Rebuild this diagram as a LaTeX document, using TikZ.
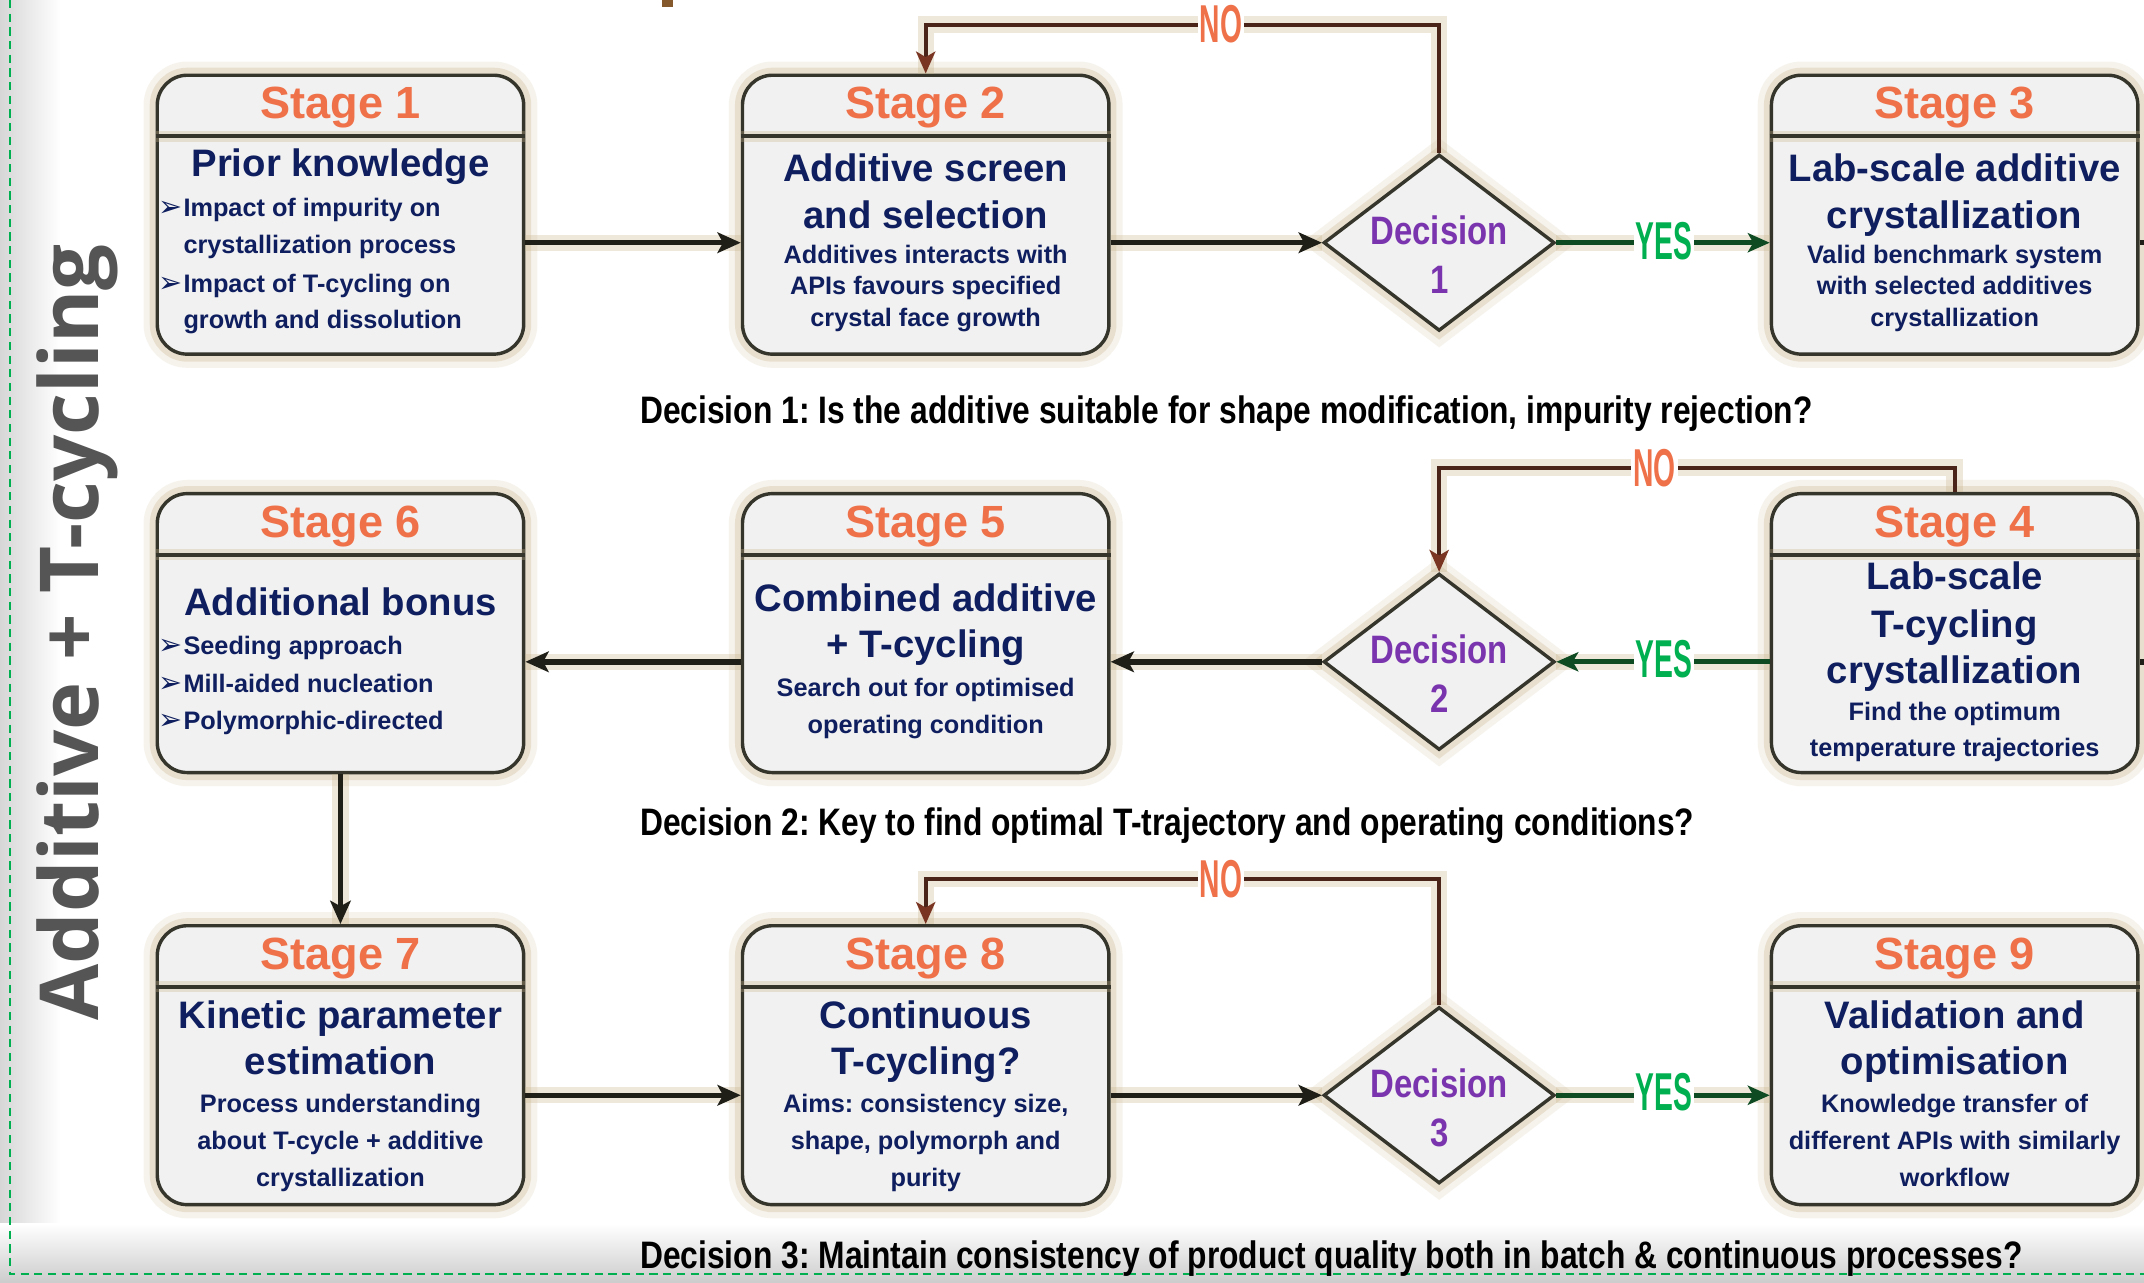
\documentclass[tikz,border=0pt]{standalone}
\usepackage{fontspec}
\setmainfont{Liberation Sans}
\newfontfamily\narrowfont{Liberation Sans}[FakeStretch=0.83]
\newfontfamily\condfont{Liberation Sans}[FakeStretch=0.53]
\newfontfamily\sidefont{Open Sans}
\newfontfamily\dingfont{DejaVu Sans}
\usetikzlibrary{shapes.geometric, arrows.meta, calc}
\frenchspacing

\definecolor{hdrorange}{HTML}{EE7149}
\definecolor{navyc}{HTML}{0E1E5E}
\definecolor{decpurple}{HTML}{7A35AE}
\definecolor{yesgreen}{HTML}{00B050}
\definecolor{yesline}{HTML}{0E4A22}
\definecolor{noline}{HTML}{4A2418}
\definecolor{notip}{HTML}{7A3522}
\definecolor{connc}{HTML}{1F1F18}
\definecolor{glowc}{HTML}{C9B48A}
\definecolor{boxfill}{HTML}{F1F1F1}
\definecolor{bordc}{HTML}{35352C}
\definecolor{sidegray}{HTML}{555555}
\definecolor{framegreen}{HTML}{00B050}

\tikzset{
  glowbox/.style={preaction={draw=glowc, line width=20pt, opacity=0.15},
                  preaction={draw=glowc, line width=11pt, opacity=0.3}},
  stagebox/.style={rectangle, rounded corners=22pt, minimum width=268pt,
                   minimum height=204pt, inner sep=0pt, draw=bordc,
                   line width=2.5pt, fill=boxfill, glowbox},
  decbox/.style={diamond, aspect=1.31, minimum width=169pt, minimum height=129pt,
                 inner sep=0pt, draw=bordc, line width=2.5pt, fill=boxfill, glowbox},
  hdrline/.style={draw=bordc, line width=3pt,
                  preaction={draw=glowc, line width=8pt, opacity=0.3}},
  lineglow/.style={preaction={draw=glowc, line width=12pt, opacity=0.3, arrows=-}},
  conn/.style={draw=connc, line width=4pt, lineglow,
               -{Stealth[length=17pt, width=15pt, inset=4pt]}},
  yesconn/.style={draw=yesline, line width=3.5pt, lineglow,
               -{Stealth[length=16pt, width=14pt, inset=4pt]}},
  noconn/.style={draw=noline, line width=3pt, lineglow,
               -{Stealth[length=16pt, width=14pt, inset=4pt, fill=notip, color=notip]}},
  stub/.style={draw=connc, line width=4pt},
  hdr/.style={font=\bfseries\fontsize{33}{33}\selectfont, text=hdrorange,
              anchor=base, inner sep=0pt},
  ttl/.style={font=\bfseries\fontsize{28}{28}\selectfont, text=navyc,
              anchor=base, inner sep=0pt},
  subt/.style={font=\bfseries\fontsize{18.5}{18.5}\selectfont, text=navyc,
              anchor=base, inner sep=0pt},
  bul/.style={subt, anchor=base west},
  bulsym/.style={font=\dingfont\fontsize{21}{21}\selectfont, text=navyc,
              anchor=base west, inner sep=0pt},
  dectxt/.style={font=\narrowfont\bfseries\fontsize{29}{29}\selectfont,
              text=decpurple, anchor=base, inner sep=0pt},
  capt/.style={font=\narrowfont\bfseries\fontsize{28}{28}\selectfont,
              text=black, anchor=base west, inner sep=0pt},
  yeslab/.style={font=\condfont\bfseries\fontsize{39}{39}\selectfont,
              text=yesgreen, fill=white, inner xsep=1.5pt, inner ysep=0pt},
  nolab/.style={font=\condfont\bfseries\fontsize{39}{39}\selectfont,
              text=hdrorange, fill=white, inner xsep=1.5pt, inner ysep=0pt},
}

\newcommand\mkstage[4]{%
  \node[stagebox] (#1) at (#2,{#3+102}) {};
  \draw[hdrline] ($(#1.north west)+(0,46)$) -- ($(#1.north east)+(0,46)$);
  \node[hdr] (#1h) at (#2,{#3+32}) {Stage #4};
}

\begin{document}
\begin{tikzpicture}[x=1pt, y=-1pt]
\useasboundingbox (0,0) rectangle (1568,938);
% background
\fill[white] (0,0) rectangle (1568,938);
\shade[left color=black!16, right color=white] (0,0) rectangle (44,938);
\shade[top color=white, bottom color=black!20] (0,895) rectangle (1568,938);
\draw[framegreen, line width=1.4pt, dash pattern=on 6pt off 4pt] (7,0) -- (7,932) -- (1568,932);
\fill[brown!70!black] (484,0) rectangle (492,5);

% side title
\node[rotate=90, anchor=base, font=\sidefont\bfseries\fontsize{59.5}{59.5}\selectfont,
      text=sidegray, inner sep=0pt] (side) at (72,462.5) {Additive + T-cycling};

% stage boxes
\mkstage{s1}{249}{55}{1}
\mkstage{s2}{677}{55}{2}
\mkstage{s3}{1429.5}{55}{3}
\mkstage{s4}{1429.5}{361}{4}
\mkstage{s5}{677}{361}{5}
\mkstage{s6}{249}{361}{6}
\mkstage{s7}{249}{677}{7}
\mkstage{s8}{677}{677}{8}
\mkstage{s9}{1429.5}{677}{9}

% decisions
\node[decbox] (d1) at (1052.5,177.5) {};
\node[dectxt] (d1a) at (1052.5,178.5) {Decision};
\node[dectxt] (d1b) at (1052.5,214.5) {1};
\node[decbox] (d2) at (1052.5,484) {};
\node[dectxt] (d2a) at (1052.5,485.5) {Decision};
\node[dectxt] (d2b) at (1052.5,521) {2};
\node[decbox] (d3) at (1052.5,801) {};
\node[dectxt] (d3a) at (1052.5,802.5) {Decision};
\node[dectxt] (d3b) at (1052.5,838.5) {3};

% stage 1 text
\node[ttl] (s1t) at (249,129) {Prior knowledge};
\node[bulsym] (s1k1) at (116,158.6) {➢};
\node[bul] (s1b1) at (134,158.6) {Impact of impurity on};
\node[bul] (s1b2) at (134,185.6) {crystallization process};
\node[bulsym] (s1k2) at (116,213.6) {➢};
\node[bul] (s1b3) at (134,213.6) {Impact of T-cycling on};
\node[bul] (s1b4) at (134,240.6) {growth and dissolution};

% stage 2 text
\node[ttl] (s2t1) at (677,133) {Additive screen};
\node[ttl] (s2t2) at (677,167) {and selection};
\node[subt] (s2s1) at (677,192.6) {Additives interacts with};
\node[subt] (s2s2) at (677,215.6) {APIs favours specified};
\node[subt] (s2s3) at (677,238.6) {crystal face growth};

% stage 3 text
\node[ttl] (s3t1) at (1429.5,133) {Lab-scale additive};
\node[ttl] (s3t2) at (1429.5,167) {crystallization};
\node[subt] (s3s1) at (1429.5,192.6) {Valid benchmark system};
\node[subt] (s3s2) at (1429.5,215.6) {with selected additives};
\node[subt] (s3s3) at (1429.5,238.6) {crystallization};

% stage 4 text
\node[ttl] (s4t1) at (1429.5,431) {Lab-scale};
\node[ttl] (s4t2) at (1429.5,466) {T-cycling};
\node[ttl] (s4t3) at (1429.5,500) {crystallization};
\node[subt] (s4s1) at (1429.5,526.6) {Find the optimum};
\node[subt] (s4s2) at (1429.5,553.6) {temperature trajectories};

% stage 5 text
\node[ttl] (s5t1) at (677,447) {Combined additive};
\node[ttl] (s5t2) at (677,481) {+ T-cycling};
\node[subt] (s5s1) at (677,509.6) {Search out for optimised};
\node[subt] (s5s2) at (677,536.6) {operating condition};

% stage 6 text
\node[ttl] (s6t) at (249,450) {Additional bonus};
\node[bulsym] (s6k1) at (116,478.6) {➢};
\node[bul] (s6b1) at (134,478.6) {Seeding approach};
\node[bulsym] (s6k2) at (116,506.6) {➢};
\node[bul] (s6b2) at (134,506.6) {Mill-aided nucleation};
\node[bulsym] (s6k3) at (116,533.6) {➢};
\node[bul] (s6b3) at (134,533.6) {Polymorphic-directed};

% stage 7 text
\node[ttl] (s7t1) at (249,752) {Kinetic parameter};
\node[ttl] (s7t2) at (249,786) {estimation};
\node[subt] (s7s1) at (249,813.6) {Process understanding};
\node[subt] (s7s2) at (249,840.6) {about T-cycle + additive};
\node[subt] (s7s3) at (249,867.6) {crystallization};

% stage 8 text
\node[ttl] (s8t1) at (677,752) {Continuous};
\node[ttl] (s8t2) at (677,786) {T-cycling?};
\node[subt] (s8s1) at (677,813.6) {Aims: consistency size,};
\node[subt] (s8s2) at (677,840.6) {shape, polymorph and};
\node[subt] (s8s3) at (677,867.6) {purity};

% stage 9 text
\node[ttl] (s9t1) at (1429.5,752) {Validation and};
\node[ttl] (s9t2) at (1429.5,786) {optimisation};
\node[subt] (s9s1) at (1429.5,813.6) {Knowledge transfer of};
\node[subt] (s9s2) at (1429.5,840.6) {different APIs with similarly};
\node[subt] (s9s3) at (1429.5,867.6) {workflow};

% row 1 connectors
\draw[conn] (s1.east |- d1) -- (s2.west |- d1);
\draw[conn] (s2.east |- d1) -- (d1.west);
\draw[yesconn] (d1.east) -- (s3.west |- d1);
\coordinate (r1) at (1568,177.5);
\draw[stub] (s3.east |- d1) -- (r1);
\coordinate (n1) at (893,18);
\draw[noconn] (d1.north) -- (d1.north |- n1) -- (s2.north |- n1) -- (s2.north);
\node[nolab] (no1) at (n1) {NO};
\node[yeslab] (yes1) at (1217,176) {YES};

% row 2 connectors
\draw[yesconn] (s4.west |- d2) -- (d2.east);
\draw[conn] (d2.west) -- (s5.east |- d2);
\draw[conn] (s5.west |- d2) -- (s6.east |- d2);
\coordinate (r2) at (1568,484);
\draw[stub] (r2) -- (s4.east |- d2);
\coordinate (n2) at (1210,342);
\draw[noconn] (s4.north) -- (s4.north |- n2) -- (d2.north |- n2) -- (d2.north);
\node[nolab] (no2) at (n2) {NO};
\node[yeslab] (yes2) at (1217,482) {YES};

% stage 6 to 7
\draw[conn] (s6.south) -- (s7.north);

% row 3 connectors
\draw[conn] (s7.east |- d3) -- (s8.west |- d3);
\draw[conn] (s8.east |- d3) -- (d3.west);
\draw[yesconn] (d3.east) -- (s9.west |- d3);
\coordinate (n3) at (893,643);
\draw[noconn] (d3.north) -- (d3.north |- n3) -- (s8.north |- n3) -- (s8.north);
\node[nolab] (no3) at (n3) {NO};
\node[yeslab] (yes3) at (1217,799) {YES};

% captions
\node[capt] (c1) at (468,310) {Decision 1: Is the additive suitable for shape modification, impurity rejection?};
\node[capt] (c2) at (468,611) {Decision 2: Key to find optimal T-trajectory and operating conditions?};
\node[capt] (c3) at (468,928) {Decision 3: Maintain consistency of product quality both in batch \& continuous processes?};
\end{tikzpicture}
\end{document}
